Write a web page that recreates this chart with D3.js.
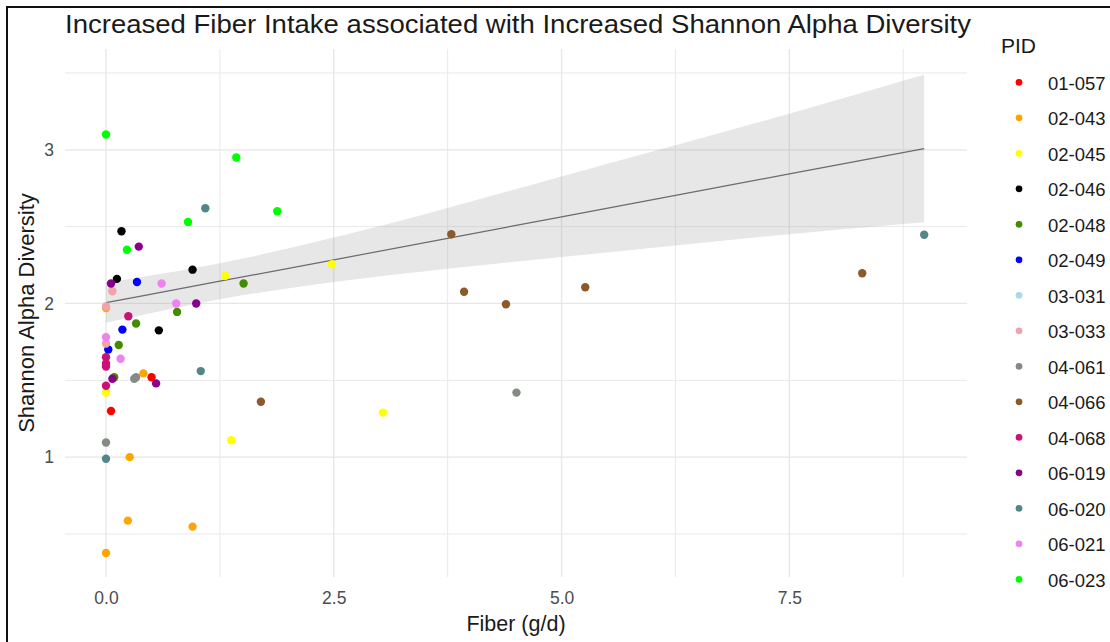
<!DOCTYPE html>
<html>
<head>
<meta charset="utf-8">
<script src="https://cdn.jsdelivr.net/npm/d3@7"></script>
<style>
  html, body { margin: 0; padding: 0; background: #fff; }
  svg { display: block; font-family: "Liberation Sans", Arial, sans-serif; }
</style>
</head>
<body>
<svg id="chart" width="1110" height="642"></svg>
<script>
// Participant IDs and their colours
const pids = ["01-057","02-043","02-045","02-046","02-048","02-049","03-031","03-033",
              "04-061","04-066","04-068","06-019","06-020","06-021","06-023"];
const pidColors = ["#FF0000","#FFA500","#FFFF00","#000000","#458B00","#0000FF","#ADD8E6","#EFA3AB",
                   "#838B83","#8B5A2B","#CD1076","#8B008B","#53868B","#EE82EE","#00FF00"];

// Fiber intake (g/d) and Shannon alpha diversity per sample, by participant
const fiber01_057 = [0.50, 0.055];
const shannon01_057 = [1.52, 1.30];
const fiber02_043 = [0.00, 0.41, 0.26, 0.24, 0.95, 0.00];
const shannon02_043 = [1.97, 1.545, 1.00, 0.587, 0.548, 0.376];
const fiber02_045 = [1.31, 2.48, 0.00, 1.375, 3.04];
const shannon02_045 = [2.18, 2.255, 1.42, 1.11, 1.29];
const fiber02_046 = [0.17, 0.12, 0.95, 0.58];
const shannon02_046 = [2.47, 2.16, 2.22, 1.825];
const fiber02_048 = [1.51, 0.78, 0.33, 0.14, 0.09];
const shannon02_048 = [2.13, 1.945, 1.87, 1.73, 1.52];
const fiber02_049 = [0.34, 0.18, 0.025];
const shannon02_049 = [2.14, 1.83, 1.70];
const fiber03_031 = [];
const shannon03_031 = [];
const fiber03_033 = [0.07, 0.00, 0.00];
const shannon03_033 = [2.08, 1.98, 1.74];
const fiber04_061 = [0.31, 0.33, 4.505, 0.00];
const shannon04_061 = [1.51, 1.52, 1.42, 1.095];
const fiber04_066 = [3.79, 3.93, 4.39, 5.26, 8.30, 1.70];
const shannon04_066 = [2.45, 2.076, 1.995, 2.106, 2.197, 1.36];
const fiber04_068 = [0.245, 0.00, 0.00, 0.00, 0.00];
const shannon04_068 = [1.917, 1.65, 1.61, 1.59, 1.465];
const fiber06_019 = [0.36, 0.055, 0.99, 0.07, 0.55];
const shannon06_019 = [2.37, 2.13, 2.00, 1.51, 1.48];
const fiber06_020 = [1.09, 1.04, 0.00, 8.98];
const shannon06_020 = [2.62, 1.56, 0.99, 2.447];
const fiber06_021 = [0.61, 0.77, 0.00, 0.16];
const shannon06_021 = [2.13, 2.00, 1.78, 1.64];
const fiber06_023 = [0.00, 1.43, 1.88, 0.90, 0.23];
const shannon06_023 = [3.10, 2.95, 2.60, 2.53, 2.35];

// Linear fit with its confidence band
const fitFiber = [0, 0.37, 1.25, 2.5, 3.75, 5.0, 6.25, 7.5, 8.98];
const fitShannon = [2.005, 2.046, 2.145, 2.284, 2.424, 2.564, 2.703, 2.843, 3.008];
const fitLower = [1.875, 1.922, 2.028, 2.139, 2.226, 2.302, 2.377, 2.451, 2.529];
const fitUpper = [2.135, 2.170, 2.262, 2.429, 2.622, 2.826, 3.029, 3.235, 3.488];

// Axis ticks
const xMajor = [0, 2.5, 5, 7.5];
const xMinor = [1.25, 3.75, 6.25, 8.75];
const yMajor = [1, 2, 3];
const yMinor = [0.5, 1.5, 2.5, 3.5];

const fiberBy = [fiber01_057, fiber02_043, fiber02_045, fiber02_046, fiber02_048, fiber02_049, fiber03_031,
  fiber03_033, fiber04_061, fiber04_066, fiber04_068, fiber06_019, fiber06_020, fiber06_021, fiber06_023];
const shannonBy = [shannon01_057, shannon02_043, shannon02_045, shannon02_046, shannon02_048, shannon02_049,
  shannon03_031, shannon03_033, shannon04_061, shannon04_066, shannon04_068, shannon06_019, shannon06_020,
  shannon06_021, shannon06_023];

const points = [];
pids.forEach((p, i) => fiberBy[i].forEach((f, j) => points.push({pid: p, fiber: f, shannon: shannonBy[i][j]})));
const fit = fitFiber.map((f, i) => ({fiber: f, y: fitShannon[i], lo: fitLower[i], hi: fitUpper[i]}));

const svg = d3.select("#chart");
const panel = {left: 65, right: 967, top: 49, bottom: 577};

const x = d3.scaleLinear().domain([-0.45, 9.45]).range([panel.left, panel.right]);
const y = d3.scaleLinear().domain([0.220, 3.656]).range([panel.bottom, panel.top]);
const color = d3.scaleOrdinal().domain(pids).range(pidColors);

// Frame
svg.append("line").attr("x1", 7).attr("x2", 1110).attr("y1", 7).attr("y2", 7)
  .attr("stroke", "#111").attr("stroke-width", 2);
svg.append("line").attr("x1", 7).attr("x2", 7).attr("y1", 6).attr("y2", 642)
  .attr("stroke", "#111").attr("stroke-width", 2);

// Grid
const grid = svg.append("g");
grid.selectAll(".ymin").data(yMinor).join("line")
  .attr("x1", panel.left).attr("x2", panel.right)
  .attr("y1", d => y(d)).attr("y2", d => y(d))
  .attr("stroke", "#e9e9e9").attr("stroke-width", 1);
grid.selectAll(".xmin").data(xMinor).join("line")
  .attr("y1", panel.top).attr("y2", panel.bottom)
  .attr("x1", d => x(d)).attr("x2", d => x(d))
  .attr("stroke", "#e9e9e9").attr("stroke-width", 1);
grid.selectAll(".ymaj").data(yMajor).join("line")
  .attr("x1", panel.left).attr("x2", panel.right)
  .attr("y1", d => y(d)).attr("y2", d => y(d))
  .attr("stroke", "#e6e6e6").attr("stroke-width", 1.3);
grid.selectAll(".xmaj").data(xMajor).join("line")
  .attr("y1", panel.top).attr("y2", panel.bottom)
  .attr("x1", d => x(d)).attr("x2", d => x(d))
  .attr("stroke", "#e6e6e6").attr("stroke-width", 1.3);

// Confidence band and fitted line
svg.append("path").datum(fit)
  .attr("d", d3.area().x(d => x(d.fiber)).y0(d => y(d.lo)).y1(d => y(d.hi)).curve(d3.curveMonotoneX))
  .attr("fill", "#999999").attr("fill-opacity", 0.24);
svg.append("path").datum(fit)
  .attr("d", d3.line().x(d => x(d.fiber)).y(d => y(d.y)))
  .attr("fill", "none").attr("stroke", "#6b6b6b").attr("stroke-width", 1.2);

// Points
svg.append("g").selectAll("circle").data(points).join("circle")
  .attr("cx", d => x(d.fiber)).attr("cy", d => y(d.shannon)).attr("r", 4.2)
  .attr("fill", d => color(d.pid));

// Axes (text only, ticks hidden)
const xAxis = svg.append("g").attr("transform", `translate(0,${panel.bottom})`)
  .call(d3.axisBottom(x).tickValues(xMajor).tickFormat(d3.format(".1f")).tickSize(0).tickPadding(15));
const yAxis = svg.append("g").attr("transform", `translate(${panel.left},0)`)
  .call(d3.axisLeft(y).tickValues(yMajor).tickFormat(d3.format("d")).tickSize(0).tickPadding(11));
[xAxis, yAxis].forEach(a => {
  a.select(".domain").remove();
  a.selectAll("text").attr("font-size", 17.5).attr("fill", "#4d4d4d")
    .attr("font-family", "Liberation Sans, Arial, sans-serif");
});

// Titles
svg.append("text").attr("x", 65).attr("y", 33).attr("font-size", 25).attr("fill", "#1a1a1a")
  .attr("textLength", 906).attr("lengthAdjust", "spacingAndGlyphs")
  .text("Increased Fiber Intake associated with Increased Shannon Alpha Diversity");
svg.append("text").attr("x", (panel.left + panel.right) / 2).attr("y", 631)
  .attr("text-anchor", "middle").attr("font-size", 21.5).attr("fill", "#1a1a1a")
  .text("Fiber (g/d)");
svg.append("text").attr("transform", `translate(34,${(panel.top + panel.bottom) / 2}) rotate(-90)`)
  .attr("text-anchor", "middle").attr("font-size", 22).attr("fill", "#1a1a1a")
  .text("Shannon Alpha Diversity");

// Legend
const legend = svg.append("g");
legend.append("text").attr("x", 1001).attr("y", 53).attr("font-size", 21).attr("fill", "#1a1a1a").text("PID");
const ly = d3.scalePoint().domain(pids).range([82.3, 579.3]);
const item = legend.selectAll(".item").data(pids).join("g")
  .attr("transform", d => `translate(0,${ly(d)})`);
item.append("circle").attr("cx", 1019).attr("cy", 0).attr("r", 3.4).attr("fill", d => color(d));
item.append("text").attr("x", 1048).attr("y", 7.5).attr("font-size", 18.5).attr("fill", "#1a1a1a").text(d => d);
</script>
</body>
</html>
